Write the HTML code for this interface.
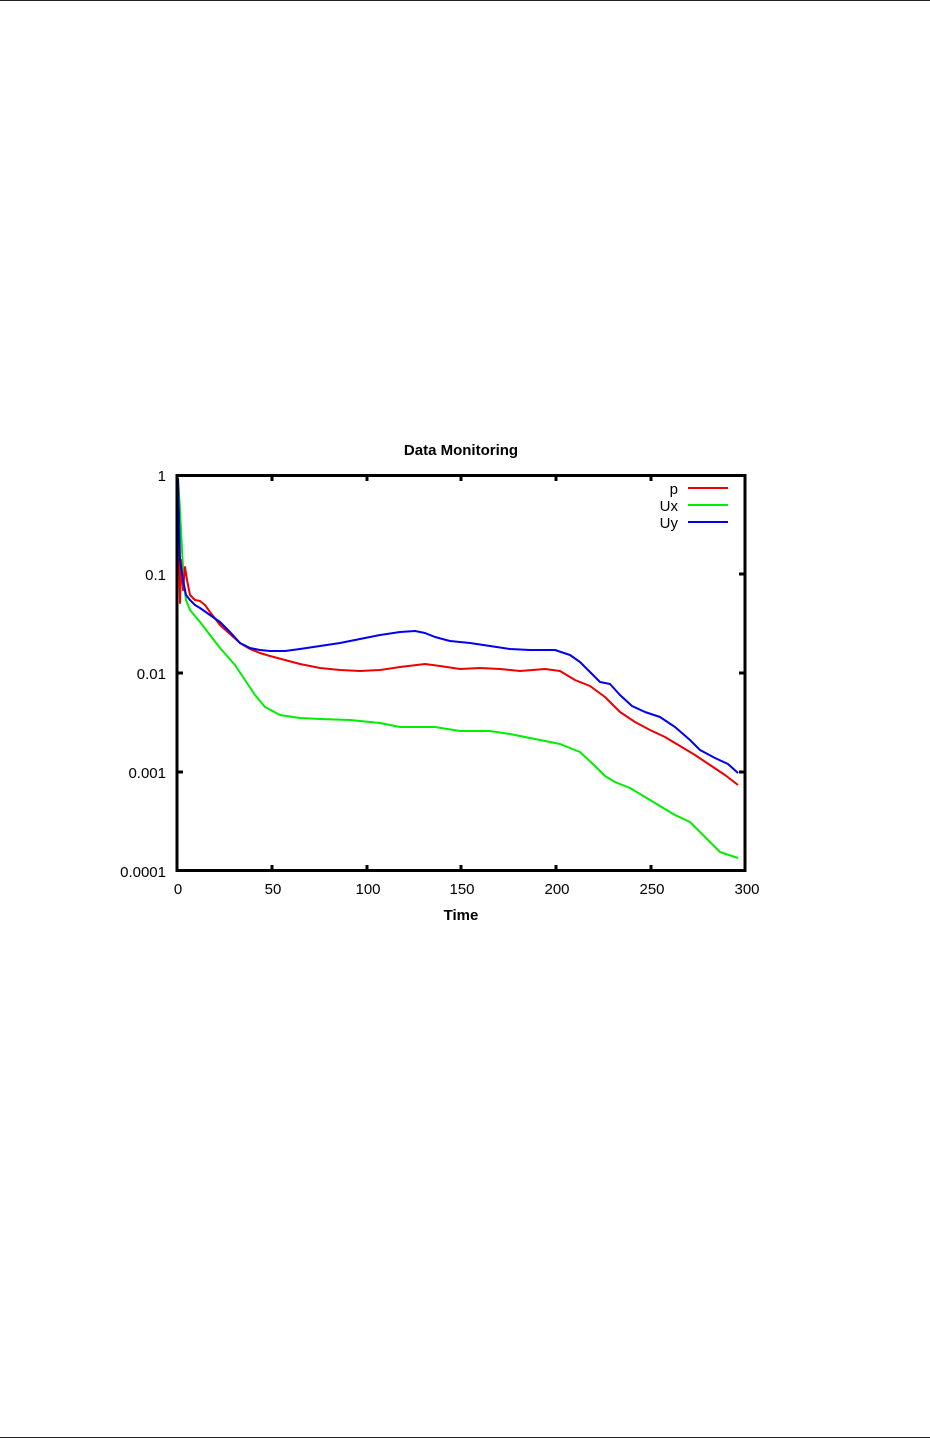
<!DOCTYPE html>
<html><head><meta charset="utf-8"><style>
html,body{margin:0;padding:0;background:#fff;width:930px;height:1438px;overflow:hidden}
svg{display:block}
text{font-family:"Liberation Sans",sans-serif;font-size:15px;fill:#000}
</style></head><body>
<svg width="930" height="1438" viewBox="0 0 930 1438">
<line x1="0" y1="0.5" x2="930" y2="0.5" stroke="#222" stroke-width="1"/>
<line x1="0" y1="1437.5" x2="930" y2="1437.5" stroke="#222" stroke-width="1"/>
<text x="461" y="455" text-anchor="middle" font-weight="bold" font-size="16">Data Monitoring</text>
<text x="461" y="920" text-anchor="middle" font-weight="bold">Time</text>
<g text-anchor="end">
<text x="166" y="481">1</text>
<text x="166" y="580">0.1</text>
<text x="166" y="679">0.01</text>
<text x="166" y="778">0.001</text>
<text x="166" y="877">0.0001</text>
</g>
<g text-anchor="middle">
<text x="178" y="894">0</text>
<text x="273" y="894">50</text>
<text x="368" y="894">100</text>
<text x="462" y="894">150</text>
<text x="557" y="894">200</text>
<text x="652" y="894">250</text>
<text x="747" y="894">300</text>
</g>
<g stroke="#000" stroke-width="3">
<line x1="272" y1="475" x2="272" y2="481"/><line x1="367" y1="475" x2="367" y2="481"/><line x1="461" y1="475" x2="461" y2="481"/><line x1="556" y1="475" x2="556" y2="481"/><line x1="651" y1="475" x2="651" y2="481"/>
<line x1="272" y1="871" x2="272" y2="865"/><line x1="367" y1="871" x2="367" y2="865"/><line x1="461" y1="871" x2="461" y2="865"/><line x1="556" y1="871" x2="556" y2="865"/><line x1="651" y1="871" x2="651" y2="865"/>
<line x1="177" y1="574" x2="183" y2="574"/><line x1="177" y1="673" x2="183" y2="673"/><line x1="177" y1="772" x2="183" y2="772"/>
<line x1="745" y1="574" x2="739" y2="574"/><line x1="745" y1="673" x2="739" y2="673"/><line x1="745" y1="772" x2="739" y2="772"/>
</g>
<g fill="none" stroke-width="2" stroke-linejoin="round">
<polyline stroke="#00ee00" points="178,478 180,510 182,550 184,585 186,600 190,610 200,622 210,635 220,648 235,665 245,680 255,695 265,707 280,715 300,718 320,719 350,720 380,723 400,727 415,727 435,727 460,731 490,731 510,734 530,738 560,744 580,752 595,766 605,776 615,782 630,788 645,797 660,806 675,815 690,822 705,837 720,852 738,858"/>
<polyline stroke="#ee0000" points="178,480 179,540 180,603 181,560 182,575 183,590 185,567 187,580 190,595 195,600 200,601 205,605 210,612 220,625 230,634 240,643 250,649 260,653 270,656 285,660 300,664 320,668 340,670 360,671 380,670 400,667 425,664 440,666 460,669 480,668 500,669 520,671 545,669 560,671 575,680 590,686 605,697 620,712 635,722 650,730 665,737 680,746 695,755 710,765 725,775 738,785"/>
<polyline stroke="#0000ee" points="178,478 179,520 180,560 183,580 186,595 190,600 195,605 200,608 210,615 220,622 230,632 240,643 250,648 260,650 270,651 285,651 300,649 320,646 340,643 360,639 380,635 400,632 415,631 425,633 435,637 450,641 470,643 490,646 510,649 530,650 555,650 570,655 580,662 590,672 600,682 610,684 620,695 632,706 645,712 660,717 675,727 690,740 700,750 715,758 728,764 738,773"/>
</g>
<rect x="177" y="475.5" width="568" height="395" fill="none" stroke="#000" stroke-width="3"/>
<g text-anchor="end">
<text x="678" y="494">p</text>
<text x="678" y="511">Ux</text>
<text x="678" y="528">Uy</text>
</g>
<line x1="688" y1="488" x2="728" y2="488" stroke="#ee0000" stroke-width="2"/>
<line x1="688" y1="505" x2="728" y2="505" stroke="#00ee00" stroke-width="2"/>
<line x1="688" y1="522" x2="728" y2="522" stroke="#0000ee" stroke-width="2"/>
</svg>
</body></html>
